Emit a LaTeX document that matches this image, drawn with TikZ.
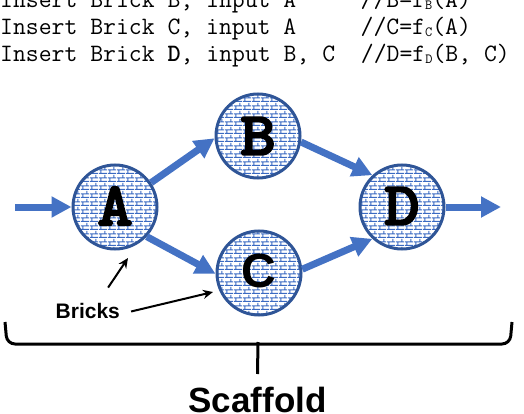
\documentclass[tikz,border=0pt]{standalone}
\usepackage{fontspec}
\usetikzlibrary{arrows.meta,patterns}
\newfontfamily\sansf{Liberation Sans}
\newfontfamily\heavytt[FakeBold=2.5]{lmmonolt10-bold.otf}
\definecolor{arrowblue}{HTML}{4472C4}
\definecolor{ringblue}{HTML}{2F5597}
\definecolor{brickblue}{HTML}{3A6AC2}
\pgfdeclarepatternformonly{mybricks}{\pgfpointorigin}{\pgfqpoint{9pt}{8pt}}{\pgfqpoint{9pt}{8pt}}{%
 \pgfsetlinewidth{1.2pt}%
 \pgfpathmoveto{\pgfqpoint{0pt}{0.6pt}}\pgfpathlineto{\pgfqpoint{9pt}{0.6pt}}%
 \pgfpathmoveto{\pgfqpoint{0pt}{4.6pt}}\pgfpathlineto{\pgfqpoint{9pt}{4.6pt}}%
 \pgfpathmoveto{\pgfqpoint{2pt}{0.6pt}}\pgfpathlineto{\pgfqpoint{2pt}{4.6pt}}%
 \pgfpathmoveto{\pgfqpoint{6.5pt}{4.6pt}}\pgfpathlineto{\pgfqpoint{6.5pt}{8pt}}%
 \pgfpathmoveto{\pgfqpoint{6.5pt}{0pt}}\pgfpathlineto{\pgfqpoint{6.5pt}{0.6pt}}%
 \pgfusepath{stroke}}
\newcommand\subsc[1]{\raisebox{-2pt}{\fontsize{14}{14}\selectfont #1}}
\begin{document}
\begin{tikzpicture}[x=1pt,y=-1pt,
  codeline/.style={anchor=base west, inner sep=0pt, font=\ttfamily\fontsize{25}{27}\selectfont},
  brick/.style={circle, draw=ringblue, line width=3pt, minimum size=84pt, inner sep=0pt,
     pattern=mybricks, pattern color=brickblue},
  slab/.style={font=\heavytt\fontsize{62}{62}\selectfont, xscale=1.1},
  plain/.style={font=\sansf\bfseries\fontsize{48}{48}\selectfont},
  flow/.style={draw=arrowblue, line width=7pt, -{Triangle[length=20pt,width=20pt]}},
  pointer/.style={black, line width=2pt, -{Stealth[length=10pt,width=9pt]}},
  bracketline/.style={black, line width=3pt, rounded corners=8pt}]
\useasboundingbox (0,0) rectangle (524,414);
% code lines
\node[codeline] (l1) at (0,8) {Insert Brick B, input A~~~~~//B=f\subsc{B}(A)};
\node[codeline] (l2) at (0,35) {Insert Brick C, input A~~~~~//C=f\subsc{C}(A)};
\node[codeline] (l3) at (0,62) {Insert Brick \textbf{D}, input B, C~~//D=f\subsc{D}(B, C)};
% bricks
\node[brick] (A) at (115,207) {};
\node[brick] (B) at (258,136) {};
\node[brick] (C) at (259,273) {};
\node[brick] (D) at (402,207) {};
\node[slab] (tA) at (115,206) {A};
\node[slab] (tB) at (258,136) {B};
\node[plain] (tC) at (259,271) {C};
\node[slab] (tD) at (402,206) {D};
% flow arrows
\coordinate (in) at (15,207);
\coordinate (out) at (501,207);
\draw[flow] (in) -- (A.west);
\draw[flow] (A.34) -- (B.183);
\draw[flow] (A.-43) -- (C.181);
\draw[flow] (B.-8) -- (D.133);
\draw[flow] (C.5) -- (D.227);
\draw[flow] (D.east) -- (out);
% bricks label
\node[anchor=base west, inner sep=0pt, font=\sansf\bfseries\fontsize{21}{21}\selectfont] (bricks) at (55.5,318) {Bricks};
\coordinate (pA) at (128,258);
\coordinate (pC) at (213,292);
\draw[pointer] ([xshift=-12pt,yshift=15pt]bricks.north east) -- (pA);
\draw[pointer] ([xshift=11pt,yshift=-1pt]bricks.east) -- (pC);
% scaffold bracket
\draw[bracketline] (5,322) -- (7,344) -- (510,344) -- (512,322);
\node[anchor=base, inner sep=0pt, font=\sansf\bfseries\fontsize{35}{35}\selectfont] (scaffold) at (257.5,412) {Scaffold};
\draw[black, line width=3pt] (258,342) -- (scaffold.north |- 0,374);
\end{tikzpicture}
\end{document}
